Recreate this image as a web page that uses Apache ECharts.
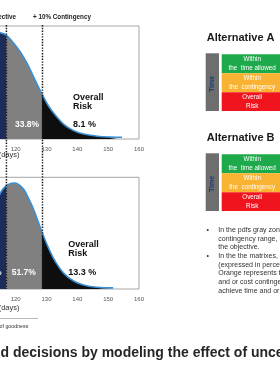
<!DOCTYPE html>
<html><head><meta charset="utf-8">
<script src="https://cdn.jsdelivr.net/npm/echarts@6/dist/echarts.min.js"></script>
<style>html,body{margin:0;padding:0;background:#fff}#c{width:280px;height:376px}</style>
</head><body><div id="c"></div>
<script>
// ---- data ----
const daysA = [100,105,110,113,115,116.9,119.3,121.5,123.7,125.8,127.4,128.9,130.7,132.9,135.6,138.8,142,146.4,150.7,154.5];
const pdfA  = [0.80,0.92,0.96,0.955,0.94,0.92,0.85,0.77,0.67,0.55,0.46,0.38,0.29,0.21,0.13,0.074,0.044,0.025,0.017,0.015];
const daysB = [100,104,108,112,115,116.6,118.2,119.5,120.9,122.6,124.2,125.8,127.4,128.9,130.7,132.9,135.6,138.8,142,146.4,151.6];
const pdfB  = [0.08,0.2,0.42,0.68,0.857,0.916,0.943,0.949,0.937,0.893,0.81,0.714,0.594,0.483,0.364,0.244,0.14,0.072,0.036,0.015,0.01];
const objective = 117;
const contingency = 128.7;           // objective + 10%
const xTicks = [100,110,120,130,140,150,160];
const withinTime = ['58.1%','35.0%'];
const withinCont = ['33.8%','51.7%'];
const overallRisk = ['8.1 %','13.3 %'];
const alternatives = ['Alternative A','Alternative B'];
const matrixRows = ['Within\nthe  time allowed','Within\nthe  contingency','Overall\nRisk'];
const bulletLines = [
  ['In the pdfs gray zone represents the','contingency range, black the risk of not achieving','the objective.'],
  ['In the the matrixes, green is the probability','(expressed in percentage) of achieving the objective.','Orange represents the probability of using time','and or cost contingency, red the probability not to','achieve time and or cost objectives.']
];

const NAVY='#1c2d5a', GREY='#808080', BLACK='#0e0e0e', LINE='#3a8fd3';
const FF='"Liberation Sans", Arial, sans-serif';

const chart = echarts.init(document.getElementById('c'), null, {renderer:'canvas'});
const pairs = (xs, ys) => xs.map((x,i)=>[x, ys[i]]);

function gridCfg(top, height){
  return {left:-46, right:141, top:top, height:height, show:true, backgroundColor:'#fff',
          borderColor:'#a6a6a6', borderWidth:1, containLabel:false, outerBoundsMode:'none'};
}
function xAxisCfg(idx){
  return {type:'value', gridIndex:idx, min:xTicks[0], max:xTicks[xTicks.length-1], interval:10,
    axisLine:{show:false}, axisTick:{show:false}, splitLine:{show:false},
    axisLabel:{fontSize:6, color:'#595959', margin:7, fontFamily:FF}};
}
function yAxisCfg(idx){
  return {type:'value', gridIndex:idx, min:0, max:1, show:false, splitLine:{show:false}};
}
function areaSeries(idx, data){
  return {type:'line', xAxisIndex:idx, yAxisIndex:idx, data:data, smooth:0.4, symbol:'none',
    lineStyle:{width:0}, areaStyle:{opacity:1}, z:2, silent:true};
}
function lineSeries(idx, data){
  return {type:'line', xAxisIndex:idx, yAxisIndex:idx, data:data, smooth:0.4, symbol:'none',
    lineStyle:{width:1.6, color:LINE}, itemStyle:{color:LINE}, z:3, silent:true};
}

function txt(x, y, text, font, fill, align, extra){
  return Object.assign({type:'text', x:x, y:y, silent:true, z:100,
    style:{text:text, font:font, fill:fill, align:align||'left', verticalAlign:'middle',
           textAlign:align||'left', textVerticalAlign:'middle'}}, extra||{});
}

const option = {
  animation:false,
  backgroundColor:'#fff',
  grid:[gridCfg(26,113), gridCfg(177.3,111.7)],
  xAxis:[xAxisCfg(0), xAxisCfg(1)],
  yAxis:[yAxisCfg(0), yAxisCfg(1)],
  visualMap:[{type:'piecewise', show:false, dimension:0, seriesIndex:[0,2],
    pieces:[{lt:objective, color:NAVY},{gte:objective, lt:contingency, color:GREY},{gte:contingency, color:BLACK}]}],
  series:[
    areaSeries(0, pairs(daysA,pdfA)), lineSeries(0, pairs(daysA,pdfA)),
    areaSeries(1, pairs(daysB,pdfB)), lineSeries(1, pairs(daysB,pdfB))
  ]
};
chart.setOption(option);

// ---- annotations ----
const g = [];
const xo = chart.convertToPixel({xAxisIndex:0}, objective);
const xc = chart.convertToPixel({xAxisIndex:0}, contingency);
const yTop = chart.convertToPixel({yAxisIndex:0}, 1);
const yBot = chart.convertToPixel({yAxisIndex:1}, 0);
[xo, xc].forEach(x=>{
  g.push({type:'line', silent:true, z:90, shape:{x1:x, y1:yTop-1, x2:x, y2:yBot},
    style:{stroke:'#1a1a1a', lineWidth:1.5, lineDash:[1.4,1.4]}});
});
const fLab = 'bold 6.3px '+FF;
g.push(txt(16, 17, 'Objective', fLab, '#222', 'right'));
g.push(txt(33, 17, '+ 10% Contingency', fLab, '#222', 'left'));

const riskF = 'bold 9px '+FF, pctF = 'bold 8.5px '+FF;
// chart A
g.push(txt(-1, 125, withinTime[0], pctF, '#fff', 'right'));
g.push(txt(15, 125, withinCont[0], pctF, '#fff', 'left'));
g.push(txt(73, 97.7, 'Overall', riskF, '#111', 'left'));
g.push(txt(73, 107, 'Risk', riskF, '#111', 'left'));
g.push(txt(73, 125, overallRisk[0], riskF, '#111', 'left'));
// chart B
g.push(txt(1.6, 272.7, withinTime[1], pctF, '#fff', 'right'));
g.push(txt(11.7, 272.7, withinCont[1], pctF, '#fff', 'left'));
g.push(txt(68.3, 245, 'Overall', riskF, '#111', 'left'));
g.push(txt(68.3, 254, 'Risk', riskF, '#111', 'left'));
g.push(txt(68.3, 272.7, overallRisk[1], riskF, '#111', 'left'));

const axF = '7.5px '+FF;
g.push(txt(19.5, 155, 'Duration (days)', axF, '#333', 'right'));
g.push(txt(19.5, 307.5, 'Duration (days)', axF, '#333', 'right'));
g.push({type:'line', silent:true, z:90, shape:{x1:-5, y1:318.5, x2:38, y2:318.5}, style:{stroke:'#9a9a9a', lineWidth:0.7}});
g.push(txt(-0.5, 327, 'of goodness', '5.3px '+FF, '#333', 'left'));

g.push(txt(0.5, 353, 'd decisions by modeling the effect of uncertainty', 'bold 14px '+FF, '#262626', 'left'));

// matrices
const rowCols = ['#1eaa4b','#fab232','#f0141e'];
alternatives.forEach((name, k)=>{
  const off = k*100;
  g.push(txt(206.7, 37.7+off, name, 'bold 11px '+FF, '#1a1a1a', 'left'));
  g.push({type:'rect', silent:true, z:80, shape:{x:205.7, y:53.3+off, width:13.3, height:57.7}, style:{fill:'#6e6e6e'}});
  g.push(txt(212.5, 84+off, 'Time', 'bold 7px '+FF, '#1f3a70', 'center', {rotation:Math.PI/2}));
  const edges = [54.3, 73.3, 92.3, 111];
  rowCols.forEach((c,i)=>{
    g.push({type:'rect', silent:true, z:80, shape:{x:221.7, y:edges[i]+off, width:61, height:edges[i+1]-edges[i]}, style:{fill:c}});
    g.push(txt(252.2, (edges[i]+edges[i+1])/2+off, matrixRows[i], '6.3px '+FF, '#fff', 'center',
      {style:{text:matrixRows[i], font:'6.3px '+FF, fill:'#fff', align:'center', verticalAlign:'middle', textAlign:'center', textVerticalAlign:'middle', lineHeight:8.4}}));
  });
});

// bullets
const bF = '7px '+FF;
let yy = 230;
bulletLines.forEach(lines=>{
  g.push(txt(206.6, yy, '\u2022', bF, '#333', 'left'));
  lines.forEach(l=>{ g.push(txt(218.3, yy, l, bF, '#333', 'left')); yy += 8.7; });
});

chart.setOption({graphic:{elements:g}});
</script></body></html>
